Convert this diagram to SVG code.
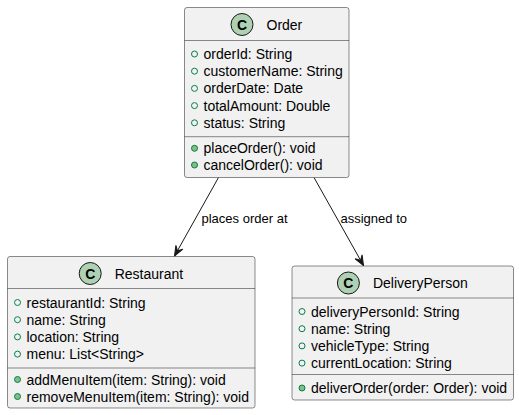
<svg xmlns="http://www.w3.org/2000/svg" width="519" height="415" viewBox="0 0 519 415">
<defs>
<style>
.box{fill:#F1F1F1;stroke:#181818;stroke-width:0.5}
.sep{stroke:#181818;stroke-width:0.5}
.t{font-family:"Liberation Sans",Arial,sans-serif;font-size:14px;fill:#000}
.lbl{font-family:"Liberation Sans",Arial,sans-serif;font-size:13px;fill:#000}
.spot{fill:#ADD1B2;stroke:#181818;stroke-width:1}
.spotc{font-family:"Liberation Sans",Arial,sans-serif;font-size:14px;font-weight:bold;fill:#000;text-anchor:middle}
.fld{fill:none;stroke:#038048;stroke-width:1}
.mth{fill:#84BE84;stroke:#038048;stroke-width:1}
.edge{stroke:#181818;stroke-width:1;fill:none}
</style>
<marker id="arr" markerUnits="userSpaceOnUse" markerWidth="14" markerHeight="12" viewBox="-11 -6 12 12" refX="0" refY="0" orient="auto">
<polygon points="0,0 -10,-4 -6,0 -10,4" fill="#181818" stroke="#181818" stroke-width="1" stroke-linejoin="miter"/>
</marker>
</defs>

<g id="connectors">
<path class="edge" d="M218.5,177.5 L174.5,256" marker-end="url(#arr)"/>
<text class="lbl" x="201.5" y="222.5">places order at</text>
<path class="edge" d="M314,177.5 L363.5,265.5" marker-end="url(#arr)"/>
<text class="lbl" x="340.5" y="222.5">assigned to</text>
</g>

<g id="Order">
<rect class="box" x="184.5" y="7.5" width="164.5" height="170" rx="2.5" ry="2.5"/>
<circle class="spot" cx="242" cy="24.5" r="11"/>
<text class="spotc" x="242" y="29.5">C</text>
<text class="t" x="266.5" y="29.5">Order</text>
<line class="sep" x1="184.5" y1="40.5" x2="349" y2="40.5"/>
<circle class="fld" cx="194.5" cy="54" r="3"/><text class="t" x="203.5" y="59">orderId: String</text>
<circle class="fld" cx="194.5" cy="71.2" r="3"/><text class="t" x="203.5" y="76.2">customerName: String</text>
<circle class="fld" cx="194.5" cy="88.4" r="3"/><text class="t" x="203.5" y="93.4">orderDate: Date</text>
<circle class="fld" cx="194.5" cy="105.6" r="3"/><text class="t" x="203.5" y="110.6">totalAmount: Double</text>
<circle class="fld" cx="194.5" cy="122.8" r="3"/><text class="t" x="203.5" y="127.8">status: String</text>
<line class="sep" x1="184.5" y1="136.7" x2="349" y2="136.7"/>
<circle class="mth" cx="194.5" cy="148.3" r="3"/><text class="t" x="203.5" y="153.3">placeOrder(): void</text>
<circle class="mth" cx="194.5" cy="165" r="3"/><text class="t" x="203.5" y="170">cancelOrder(): void</text>
</g>

<g id="Restaurant">
<rect class="box" x="7.5" y="256.5" width="247.5" height="151.5" rx="2.5" ry="2.5"/>
<circle class="spot" cx="90.2" cy="273.5" r="11"/>
<text class="spotc" x="90.2" y="278.5">C</text>
<text class="t" x="114.7" y="278.5">Restaurant</text>
<line class="sep" x1="7.5" y1="288.5" x2="255" y2="288.5"/>
<circle class="fld" cx="17.5" cy="302.5" r="3"/><text class="t" x="26.5" y="307.5">restaurantId: String</text>
<circle class="fld" cx="17.5" cy="319.7" r="3"/><text class="t" x="26.5" y="324.7">name: String</text>
<circle class="fld" cx="17.5" cy="336.9" r="3"/><text class="t" x="26.5" y="341.9">location: String</text>
<circle class="fld" cx="17.5" cy="354.1" r="3"/><text class="t" x="26.5" y="359.1">menu: List&lt;String&gt;</text>
<line class="sep" x1="7.5" y1="368" x2="255" y2="368"/>
<circle class="mth" cx="17.5" cy="379.5" r="3"/><text class="t" x="26.5" y="384.5">addMenuItem(item: String): void</text>
<circle class="mth" cx="17.5" cy="396.5" r="3"/><text class="t" x="26.5" y="401.5">removeMenuItem(item: String): void</text>
</g>

<g id="DeliveryPerson">
<rect class="box" x="292" y="266" width="221.5" height="134" rx="2.5" ry="2.5"/>
<circle class="spot" cx="348.4" cy="283" r="11"/>
<text class="spotc" x="348.4" y="288">C</text>
<text class="t" x="372.9" y="288">DeliveryPerson</text>
<line class="sep" x1="292" y1="298" x2="513.5" y2="298"/>
<circle class="fld" cx="302" cy="311.5" r="3"/><text class="t" x="311" y="316.5">deliveryPersonId: String</text>
<circle class="fld" cx="302" cy="328.7" r="3"/><text class="t" x="311" y="333.7">name: String</text>
<circle class="fld" cx="302" cy="345.9" r="3"/><text class="t" x="311" y="350.9">vehicleType: String</text>
<circle class="fld" cx="302" cy="363.1" r="3"/><text class="t" x="311" y="368.1">currentLocation: String</text>
<line class="sep" x1="292" y1="374.5" x2="513.5" y2="374.5"/>
<circle class="mth" cx="302" cy="388" r="3"/><text class="t" x="311" y="393">deliverOrder(order: Order): void</text>
</g>
</svg>
